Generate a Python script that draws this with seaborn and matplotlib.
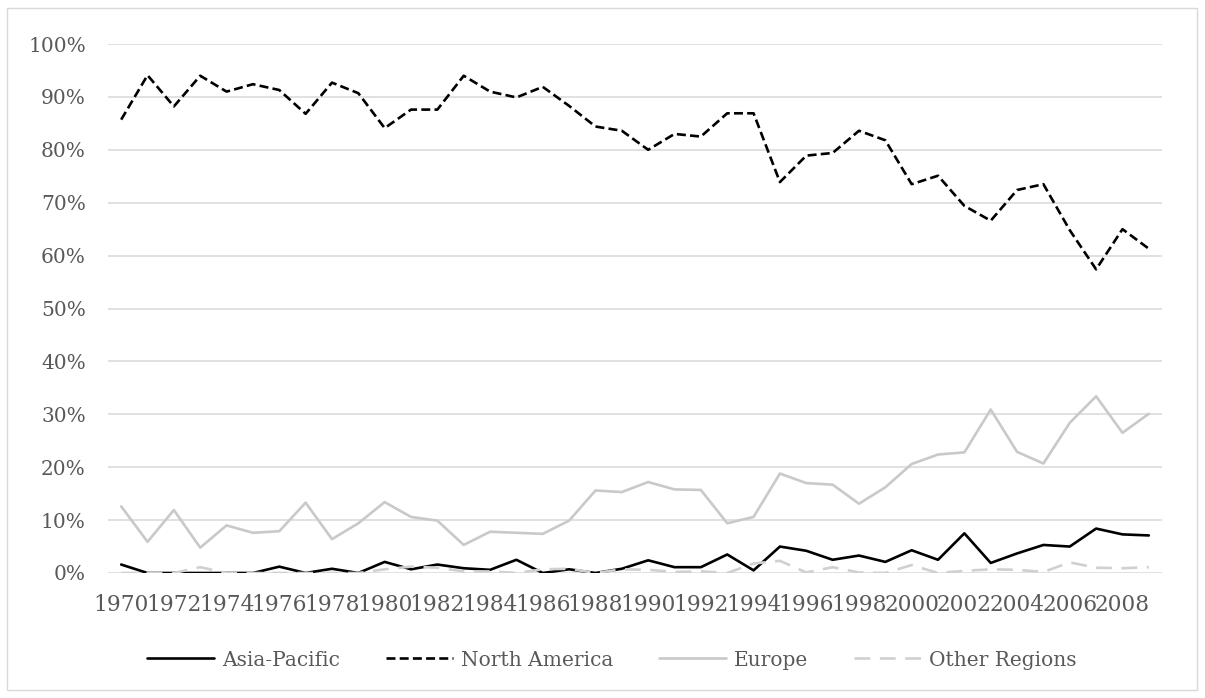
import pandas as pd
import seaborn as sns
import matplotlib.pyplot as plt
from matplotlib.patches import Rectangle
from matplotlib.ticker import PercentFormatter

# share of total by region, percent
years = list(range(1970, 2010))
asia_pacific = [1.6, 0.0, 0.0, 0.0, 0.0, 0.0, 1.2, 0.0, 0.8, 0.0,
                2.1, 0.7, 1.6, 0.9, 0.6, 2.5, 0.0, 0.7, 0.0, 0.8,
                2.4, 1.1, 1.1, 3.5, 0.5, 5.0, 4.2, 2.5, 3.3, 2.1,
                4.3, 2.5, 7.5, 1.9, 3.7, 5.3, 5.0, 8.4, 7.3, 7.1]
north_america = [85.7, 94.1, 88.2, 94.0, 91.0, 92.4, 91.3, 86.8, 92.7, 90.7,
                 84.1, 87.6, 87.6, 94.0, 91.0, 89.9, 91.9, 88.3, 84.4, 83.6,
                 80.0, 83.0, 82.5, 86.9, 86.9, 73.9, 78.9, 79.4, 83.6, 81.8,
                 73.5, 75.1, 69.4, 66.6, 72.4, 73.5, 64.8, 57.4, 65.0, 61.3]
europe = [12.6, 5.9, 11.9, 4.8, 9.0, 7.6, 7.9, 13.3, 6.4, 9.4,
          13.4, 10.6, 9.9, 5.3, 7.8, 7.6, 7.4, 9.9, 15.6, 15.3,
          17.2, 15.8, 15.7, 9.4, 10.6, 18.8, 17.0, 16.7, 13.1, 16.2,
          20.6, 22.4, 22.8, 30.9, 22.9, 20.7, 28.4, 33.4, 26.5, 30.1]
other_regions = [0.0, 0.0, 0.0, 1.1, 0.0, 0.0, 0.0, 0.0, 0.0, 0.0,
                 0.7, 1.2, 1.0, 0.3, 0.3, 0.0, 0.7, 0.8, 0.0, 0.7,
                 0.6, 0.2, 0.3, 0.0, 1.8, 2.3, 0.1, 1.1, 0.1, 0.0,
                 1.5, 0.0, 0.4, 0.7, 0.6, 0.2, 2.0, 1.0, 0.9, 1.1]

regions = ["Asia-Pacific", "North America", "Europe", "Other Regions"]
colors = {"Asia-Pacific": "#000000", "North America": "#000000",
          "Europe": "#c9c9c9", "Other Regions": "#d0d0d0"}
dashes = {"Asia-Pacific": "", "North America": (3.4, 1.6),
          "Europe": "", "Other Regions": (6, 3.6)}

df = pd.DataFrame({"year": years, "Asia-Pacific": asia_pacific,
                   "North America": north_america, "Europe": europe,
                   "Other Regions": other_regions})
df = df.melt(id_vars="year", var_name="region", value_name="share")

sns.set_theme(style="white")
plt.rcParams["font.family"] = ["DejaVu Serif"]
text_gray = "#595959"

fig = plt.figure(figsize=(12.05, 6.98), dpi=100)
ax = fig.add_axes([108 / 1205, 1 - 573 / 698, (1162 - 108) / 1205, (573 - 44) / 698])

sns.lineplot(data=df, x="year", y="share", hue="region", style="region",
             hue_order=regions, style_order=regions, palette=colors,
             dashes=dashes, linewidth=1.9, ax=ax)

ax.set_xlim(1969.5, 2009.5)
ax.set_ylim(0, 100)
ax.set_yticks(range(0, 101, 10))
ax.set_xticks(range(1970, 2009, 2))
ax.yaxis.set_major_formatter(PercentFormatter(100, decimals=0))
ax.grid(axis="y", color="#d9d9d9", linewidth=1.1)
ax.set_axisbelow(True)
for s in ax.spines.values():
    s.set_visible(False)
ax.tick_params(axis="both", length=0, colors=text_gray)
ax.tick_params(axis="y", pad=16, labelsize=14.5)
ax.tick_params(axis="x", pad=15, labelsize=15.6)
ax.set_xlabel("")
ax.set_ylabel("")

handles, labels = ax.get_legend_handles_labels()
ax.legend(handles, labels, loc="center", bbox_to_anchor=(612 / 1205, 1 - 660 / 698),
          bbox_transform=fig.transFigure, ncol=4, frameon=False, fontsize=14.5,
          handlelength=3.3, handletextpad=0.4, columnspacing=2.3, labelcolor=text_gray)

fig.patches.append(Rectangle((7 / 1205, 8 / 698), 1190 / 1205, 682 / 698,
                             transform=fig.transFigure, fill=False,
                             edgecolor="#d9d9d9", linewidth=1))

fig.savefig("out.png", dpi=100)
